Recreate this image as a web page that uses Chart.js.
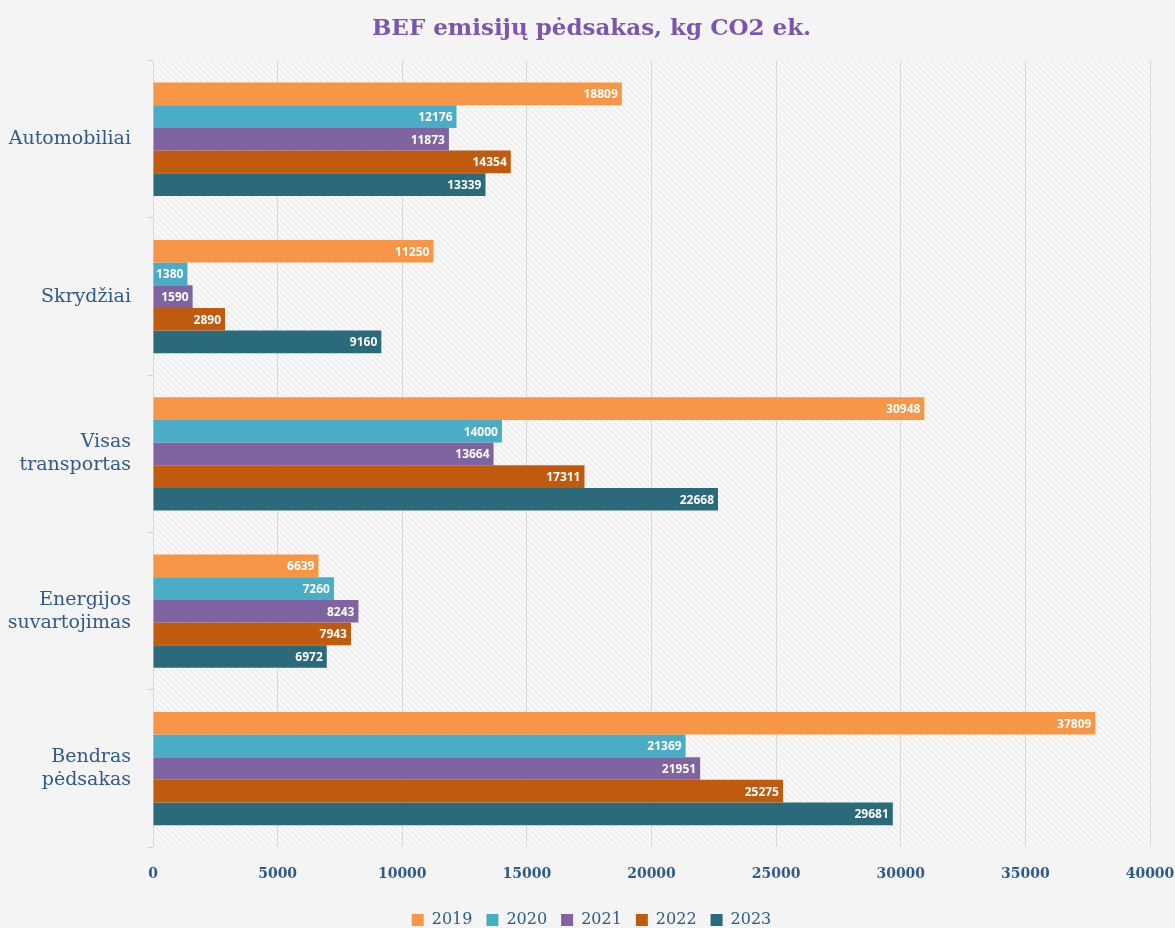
<!DOCTYPE html>
<html>
<head>
<meta charset="utf-8">
<script src="https://cdn.jsdelivr.net/npm/chart.js@4"></script>
<style>
  body { margin: 0; background: #f4f4f4; }
  #wrap { width: 1175px; height: 928px; }
</style>
</head>
<body>
<div id="wrap"><canvas id="befChart" width="1175" height="928"></canvas></div>
<script>
// data
const categories = ['Automobiliai', 'Skrydžiai', ['Visas', 'transportas'], ['Energijos', 'suvartojimas'], ['Bendras', 'pėdsakas']];
const years = ['2019', '2020', '2021', '2022', '2023'];
const v2019 = [18809, 11250, 30948, 6639, 37809];
const v2020 = [12176, 1380, 14000, 7260, 21369];
const v2021 = [11873, 1590, 13664, 8243, 21951];
const v2022 = [14354, 2890, 17311, 7943, 25275];
const v2023 = [13339, 9160, 22668, 6972, 29681];
const xTicks = [0, 5000, 10000, 15000, 20000, 25000, 30000, 35000, 40000];

const colors = ['#f79646', '#4bacc6', '#8064a2', '#c05a0e', '#2a6a7b'];
const series = [v2019, v2020, v2021, v2022, v2023];

// hatched plot background
function hatch() {
    const c = document.createElement('canvas');
    c.width = 6; c.height = 6;
    const g = c.getContext('2d');
    g.fillStyle = '#f7f7f7';
    g.fillRect(0, 0, 6, 6);
    g.strokeStyle = '#e5e5e5';
    g.lineWidth = 1;
    g.beginPath();
    g.moveTo(0, 0); g.lineTo(6, 6);
    g.moveTo(-3, 3); g.lineTo(3, 9);
    g.moveTo(3, -3); g.lineTo(9, 3);
    g.stroke();
    return g.createPattern(c, 'repeat');
}

const plotBg = {
    id: 'plotBg',
    beforeDraw(chart) {
        const { ctx, chartArea: a } = chart;
        ctx.save();
        ctx.fillStyle = hatch();
        ctx.fillRect(a.left, a.top, a.right - a.left, a.bottom - a.top);
        ctx.restore();
    }
};

const barLabels = {
    id: 'barLabels',
    afterDatasetsDraw(chart) {
        const ctx = chart.ctx;
        ctx.save();
        ctx.font = 'bold 12px "Open Sans", sans-serif';
        ctx.fillStyle = '#fff';
        ctx.textAlign = 'right';
        ctx.textBaseline = 'middle';
        chart.data.datasets.forEach((ds, i) => {
            chart.getDatasetMeta(i).data.forEach((bar, j) => {
                ctx.fillText(ds.data[j], bar.x - 4, bar.y + 1);
            });
        });
        ctx.restore();
    }
};

new Chart(document.getElementById('befChart').getContext('2d'), {
    type: 'bar',
    data: {
        labels: categories,
        datasets: years.map((y, i) => ({
            label: y,
            data: series[i],
            backgroundColor: colors[i],
            borderWidth: 0,
            barPercentage: 1.0,
            categoryPercentage: 0.72
        }))
    },
    options: {
        indexAxis: 'y',
        responsive: false,
        animation: false,
        layout: { padding: { left: 8, right: 0, top: 6, bottom: -10 } },
        plugins: {
            title: {
                display: true,
                text: 'BEF emisijų pėdsakas, kg CO2 ek.',
                color: '#7d55ae',
                font: { family: '"DejaVu Serif", serif', size: 23, weight: 'bold' },
                padding: { top: 9, bottom: 18 }
            },
            legend: {
                position: 'bottom',
                labels: {
                    boxWidth: 12,
                    boxHeight: 12,
                    color: '#2e5a8c',
                    font: { family: '"DejaVu Serif", serif', size: 16 },
                    padding: 14
                }
            },
            tooltip: { enabled: false }
        },
        scales: {
            x: {
                min: 0,
                max: 40000,
                afterBuildTicks: axis => { axis.ticks = xTicks.map(v => ({ value: v })); },
                afterFit: axis => { axis.paddingRight = 25; axis.paddingLeft = 0; axis.height -= 4; },
                border: { display: false },
                grid: { color: '#d9d9d9', drawTicks: false },
                ticks: {
                    color: '#2e5a8c',
                    padding: 19,
                    maxRotation: 0,
                    callback: v => String(v),
                    font: { family: '"DejaVu Serif", serif', size: 14, weight: 'bold' }
                }
            },
            y: {
                border: { display: false },
                afterFit: axis => { axis.width = 145; },
                grid: { drawOnChartArea: false, color: '#d4d4d4', tickLength: 6 },
                ticks: {
                    color: '#2e5a8c',
                    padding: 16,
                    font: { family: '"DejaVu Serif", serif', size: 19 }
                }
            }
        }
    },
    plugins: [plotBg, barLabels]
});
</script>
</body>
</html>
